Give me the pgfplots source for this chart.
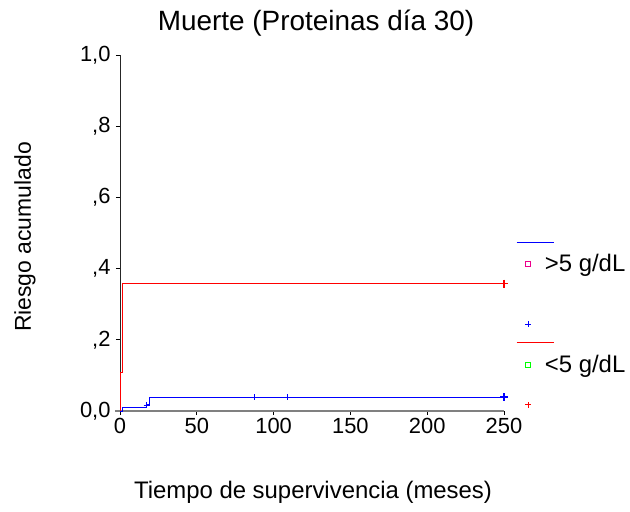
\documentclass[border=0pt]{standalone}
\usepackage{pgfplots}
\pgfplotsset{compat=1.18}
\usepackage{fontspec}
\setmainfont{Liberation Sans}

\begin{document}
\begin{tikzpicture}
\useasboundingbox (-120bp,-101bp) rectangle (510bp,411bp);
\begin{axis}[
  scale only axis, width=384bp, height=356bp,
  xmin=0, xmax=250, ymin=0, ymax=1,
  clip=false,
  axis x line*=bottom, axis y line*=left,
  x axis line style={-, draw=gray, line width=1.2bp},
  y axis line style={-, draw=black!85, line width=0.8bp},
  tick align=outside, major tick length=4bp,
  tick style={black, line width=0.8bp},
  xtick={0,50,100,150,200,250},
  ytick={0,0.2,0.4,0.6,0.8,1},
  yticklabels={{0,0},{,2},{,4},{,6},{,8},{1,0}},
  /pgf/number format/assume math mode=true,
  ticklabel style={font=\fontsize{22}{26}\selectfont},
  yticklabel style={xshift=-2bp},
  legend style={at={(axis description cs:1.0547,0.2714)}, anchor=west,
    draw=none, fill=none, inner sep=0pt, row sep=82bp,
    nodes={inner sep=0pt}, cells={anchor=west},
    /tikz/every odd column/.append style={column sep=14bp},
    font=\fontsize{24}{28}\selectfont},
]
% cumulative risk, <5 g/dL group
\addplot[const plot, red, line width=0.9bp, forget plot]
  coordinates {(0,0) (0.4,0.107) (1.5,0.358) (250,0.358)};
\addplot[only marks, mark=+, red, mark size=4bp, line width=1.4bp, forget plot]
  coordinates {(250,0.358)};
% cumulative risk, >5 g/dL group
\addplot[const plot, blue, line width=1bp, forget plot]
  coordinates {(0,0) (1.8,0.010) (17.4,0.017) (19.5,0.039) (250,0.039)};
\addplot[only marks, mark=+, blue, mark size=3bp, line width=0.7bp, forget plot]
  coordinates {(17.4,0.017) (87.2,0.039) (108.7,0.039)};
\addplot[only marks, mark=+, blue, mark size=4bp, line width=1.4bp, forget plot]
  coordinates {(250,0.039)};

\addlegendimage{legend image code/.code={
  \draw[overlay, blue, line width=1bp] (-9bp,21bp) -- (28bp,21bp);
  \draw[magenta, line width=0.7bp] (0bp,-2.5bp) rectangle (5bp,2.5bp);
  \draw[overlay, blue, line width=0.7bp] (2.5bp,-60bp) +(-3bp,0) -- +(3bp,0) +(0,-3bp) -- +(0,3bp);
}}
\addlegendentry{>5 g/dL}
\addlegendimage{legend image code/.code={
  \draw[overlay, red, line width=0.9bp] (-9bp,22bp) -- (28bp,22bp);
  \draw[green, line width=0.7bp] (0bp,-2.5bp) rectangle (5bp,2.5bp);
  \draw[overlay, red, line width=0.7bp] (2.5bp,-40bp) +(-3bp,0) -- +(3bp,0) +(0,-3bp) -- +(0,3bp);
}}
\addlegendentry{<5 g/dL}
\end{axis}
\draw[gray, line width=1.2bp] (-5bp,0) -- (0,0);
\node[font=\fontsize{28}{33}\selectfont] at (196bp,388bp) {Muerte (Proteinas día 30)};
\node[font=\fontsize{24}{29}\selectfont] at (193bp,-81.5bp) {Tiempo de supervivencia (meses)};
\node[rotate=90, font=\fontsize{23}{28}\selectfont] at (-95bp,174bp) {Riesgo acumulado};
\end{tikzpicture}
\end{document}
